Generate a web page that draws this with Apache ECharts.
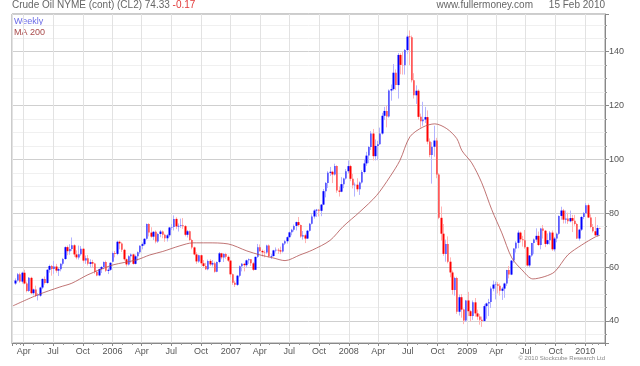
<!DOCTYPE html>
<html><head><meta charset="utf-8">
<script src="https://cdn.jsdelivr.net/npm/echarts@6/dist/echarts.min.js"></script>
<style>html,body{margin:0;padding:0;background:#fff}#c{width:640px;height:366px}</style>
</head><body><div id="c"></div>
<script>
// Weekly bars (Monday-dated), [open, high, low, close]
const firstWeek = [2005, 2, 7]; // 7 Mar 2005
const ohlc2005 = [
[53.9,55.8,53.4,55.0],[55.0,57.8,54.6,57.3],[57.3,57.9,54.2,54.6],[54.6,58.3,53.9,57.9],
[57.9,59.0,53.6,53.9],[53.9,54.6,50.6,51.1],[51.1,56.3,50.8,56.0],[56.0,56.4,49.9,50.3],
[50.3,52.0,49.5,51.7],[51.7,53.1,48.9,49.3],[49.3,50.3,47.6,49.4],[49.4,52.7,49.0,52.4],[52.4,55.8,51.8,55.6],
[55.6,56.5,53.5,54.1],[54.1,59.2,53.8,59.0],[59.0,60.9,57.9,60.4],[60.4,60.8,56.8,59.3],
[59.3,62.3,57.5,60.2],[60.2,61.2,57.9,58.7],[58.7,59.9,56.7,59.2],[59.2,61.4,58.4,61.2],
[61.2,63.4,60.6,63.0],[63.0,67.7,62.7,67.4],[67.4,68.0,64.4,65.9],[65.9,68.5,64.6,66.7],[66.7,71.0,66.0,68.1],
[68.1,68.5,63.8,64.7],[64.7,66.2,62.9,63.6],[63.6,68.0,62.8,64.8],[64.8,67.8,64.2,66.8],
[66.8,67.1,61.6,62.4],[62.4,64.3,61.2,63.3],[63.3,64.5,60.6,61.2],[61.2,62.9,59.8,61.8],[61.8,62.7,59.8,61.3],
[61.3,61.6,57.5,58.2],[58.2,58.9,56.6,56.9],[56.9,59.4,56.6,59.3],[59.3,60.4,57.8,60.0],
[60.0,62.1,59.2,61.9],[61.9,62.4,58.2,58.6],[58.6,59.6,57.4,59.0],[59.0,61.8,58.6,61.6]
];
const ohlc2006 = [
[62.0,65.8,61.8,65.2],[65.2,66.0,63.6,64.9],[64.9,69.8,64.4,69.4],[69.4,69.9,66.6,68.8],[68.8,69.2,65.6,66.4],
[66.4,66.8,62.4,62.9],[62.9,63.2,60.2,61.0],[61.0,64.4,60.6,64.0],[64.0,65.1,61.6,64.7],
[64.7,65.0,60.9,61.2],[61.2,64.6,61.0,64.0],[64.0,65.8,62.4,65.5],[65.5,68.1,64.9,67.9],
[67.9,69.1,66.6,68.5],[68.5,70.8,68.0,70.5],[70.5,76.2,70.2,76.0],[76.0,76.3,71.4,72.8],
[72.8,74.8,70.9,71.3],[71.3,73.4,70.0,73.1],[73.1,73.6,68.8,69.5],[69.5,72.6,69.0,72.3],[72.3,73.8,71.1,73.2],
[73.2,73.6,70.7,72.0],[72.0,72.4,69.4,70.7],[70.7,72.3,69.5,71.8],[71.8,74.9,71.1,74.7],
[74.7,76.0,73.8,74.9],[74.9,79.2,73.6,77.9],[77.9,78.5,74.1,75.1],[75.1,76.2,73.2,75.3],[75.3,78.0,74.6,75.5],
[75.5,78.2,74.2,75.2],[75.2,75.6,71.4,72.0],[72.0,73.8,71.0,73.3],[73.3,73.6,69.6,70.1],
[70.1,70.5,66.6,67.3],[67.3,67.6,64.4,64.7],[64.7,65.5,61.2,62.1],[62.1,64.6,61.6,64.4],
[64.4,64.6,60.8,61.4],[61.4,62.6,59.9,60.4],[60.4,61.6,58.9,59.2],[59.2,62.8,58.8,62.3],[62.3,62.9,60.4,61.0],
[61.0,62.6,60.2,61.4],[61.4,62.0,57.9,58.3],[58.3,62.1,58.1,61.9],[61.9,65.6,61.4,65.1],
[65.1,65.3,62.9,63.6],[63.6,65.2,61.9,64.9],[64.9,65.3,63.1,63.8],[63.8,64.3,61.9,62.4]
];
const ohlc2007 = [
[62.4,62.5,56.2,57.3],[57.3,57.6,53.4,54.2],[54.2,54.9,52.6,53.4],[53.4,57.1,53.0,56.8],[56.8,60.6,56.2,60.3],
[60.3,61.5,58.4,61.2],[61.2,61.6,58.4,60.7],[60.7,62.8,59.8,62.5],[62.5,63.2,61.2,62.9],
[62.9,63.0,60.4,61.4],[61.4,61.9,58.6,59.0],[59.0,63.9,58.9,63.8],[63.8,68.6,63.4,67.4],
[67.4,68.4,65.6,66.0],[66.0,66.5,63.9,65.5],[65.5,66.2,63.6,65.4],[65.4,68.3,64.9,68.0],[68.0,68.4,63.6,63.9],
[63.9,64.8,63.0,64.1],[64.1,66.4,63.9,66.2],[66.2,67.3,65.4,66.4],[66.4,67.0,64.9,66.2],
[66.2,67.6,64.8,65.8],[65.8,69.0,65.4,68.8],[68.8,70.1,68.2,69.6],[69.6,71.4,68.7,71.1],
[71.1,73.2,70.9,72.9],[72.9,74.2,71.8,73.9],[73.9,75.8,73.2,75.3],[75.3,76.9,73.6,76.7],[76.7,78.6,75.0,75.6],
[75.6,75.8,70.9,71.4],[71.4,73.4,70.2,71.8],[71.8,72.4,68.9,70.6],[70.6,73.8,70.4,73.5],
[73.5,76.4,73.2,76.1],[76.1,79.6,75.8,78.8],[78.8,81.5,78.0,81.0],[81.0,81.6,78.6,81.3],
[81.3,81.6,78.8,80.9],[80.9,83.4,78.9,83.2],[83.2,89.0,83.0,88.2],[88.2,91.6,85.9,91.2],[91.2,95.6,89.4,95.0],
[95.0,97.2,93.8,95.4],[95.4,95.8,91.2,94.4],[94.4,98.4,94.0,97.5],[97.5,97.8,87.6,88.4],
[88.4,89.9,86.2,88.0],[88.0,93.4,87.8,90.8],[90.8,93.2,89.3,92.9],[92.9,96.4,92.5,95.6],[95.6,99.6,94.8,97.5]
];
const ohlc2008 = [
[97.5,98.0,91.9,92.8],[92.8,94.6,89.2,90.4],[90.4,91.4,86.2,90.6],[90.6,93.0,88.0,88.9],
[88.9,91.8,86.8,91.4],[91.4,96.0,91.0,95.3],[95.3,100.2,94.8,98.5],[98.5,102.8,97.6,101.4],
[101.4,105.0,98.6,104.6],[104.6,110.5,103.5,109.6],[109.6,111.3,99.6,101.2],[101.2,107.4,99.6,105.0],[105.0,106.9,99.7,105.6],
[105.6,111.8,105.4,109.6],[109.6,117.3,109.2,116.2],[116.2,119.5,114.6,118.0],[118.0,119.9,111.9,115.9],
[115.9,126.0,115.5,125.6],[125.6,127.8,121.8,126.1],[126.1,135.4,125.6,132.2],[132.2,133.4,125.8,127.6],
[127.6,139.5,122.6,138.8],[138.8,139.4,131.6,135.1],[135.1,139.9,131.5,135.0],[135.0,141.0,131.5,140.6],[140.6,146.2,139.2,145.6],
[145.6,147.9,135.0,145.4],[145.4,146.0,128.6,129.4],[129.4,132.0,122.6,123.8],[123.8,127.5,120.6,125.5],
[125.5,126.0,114.8,115.8],[115.8,117.0,111.8,114.2],[114.2,121.4,112.5,114.8],[114.8,119.5,113.5,115.7],
[115.7,118.2,105.6,106.6],[106.6,107.8,100.8,101.6],[101.6,106.4,91.0,104.7],[104.7,112.5,101.0,107.0],[107.0,108.0,93.0,94.4],
[94.4,94.9,77.8,78.3],[78.3,82.5,69.8,72.4],[72.4,76.0,64.2,64.9],[64.9,70.2,62.0,68.6],
[68.6,71.4,61.4,62.0],[62.0,63.6,56.2,58.0],[58.0,58.7,49.8,51.5],[51.5,56.4,49.4,55.9],
[55.9,56.4,42.6,43.4],[43.4,49.8,42.0,48.8],[48.8,50.0,41.2,44.2],[44.2,44.6,38.8,40.2],[40.2,47.8,39.6,47.6]
];
const ohlc2009 = [
[47.6,50.8,41.8,43.6],[43.6,44.0,39.8,41.8],[41.8,47.6,40.4,46.9],[46.9,48.5,41.6,42.8],
[42.8,44.2,40.4,41.6],[41.6,42.6,38.6,40.4],[40.4,41.6,37.8,40.0],[40.0,46.2,39.6,45.5],
[45.5,46.8,40.8,46.5],[46.5,48.2,41.8,47.0],[47.0,52.8,44.8,52.0],[52.0,55.0,51.0,53.5],[53.5,54.6,48.0,53.6],
[53.6,54.4,50.2,53.1],[53.1,53.9,49.4,51.2],[51.2,52.6,47.8,52.0],[52.0,54.2,48.6,53.9],
[53.9,59.0,53.0,58.9],[58.9,60.4,55.8,57.2],[57.2,62.6,57.0,62.4],[62.4,67.0,61.6,66.9],
[66.9,69.6,65.4,69.0],[69.0,73.6,67.0,72.8],[72.8,73.2,69.2,70.3],[70.3,71.6,67.6,70.0],[70.0,73.8,66.8,67.4],
[67.4,67.6,60.2,60.6],[60.6,64.4,59.8,64.3],[64.3,69.0,63.8,68.9],[68.9,70.6,64.8,70.2],
[70.2,74.4,69.4,71.6],[71.6,73.2,67.8,68.2],[68.2,74.6,66.6,74.3],[74.3,75.6,70.6,73.5],[73.5,73.8,67.4,68.6],
[68.6,72.5,68.2,70.0],[70.0,73.4,68.4,72.8],[72.8,73.6,66.0,66.6],[66.6,71.2,65.8,70.6],
[70.6,72.8,69.2,72.4],[72.4,79.2,72.0,79.0],[79.0,82.4,77.6,81.0],[81.0,81.6,76.2,77.6],
[77.6,81.0,76.2,78.0],[78.0,80.2,76.0,77.0],[77.0,81.0,76.6,78.2],[78.2,79.4,73.0,77.2],[77.2,79.4,75.4,76.0],
[76.0,76.4,70.4,70.6],[70.6,74.2,69.8,73.9],[73.9,79.0,73.4,78.6],[78.6,80.4,77.8,80.0]
];
const ohlc2010 = [
[80.0,83.8,79.8,83.0],[83.0,83.6,78.2,78.4],[78.4,79.6,74.4,74.9],[74.9,76.0,72.8,73.3],
[73.3,78.6,71.6,71.8],[71.8,75.6,71.4,74.5],[74.5,74.6,74.2,74.33]
];
// MA 200
const ma200 = [
['2005-02-27',45.6],['2005-05-15',49.7],['2005-07-22',52.6],['2005-08-28',54.0],['2005-10-14',57.0],
['2005-11-23',59.0],['2006-01-02',60.8],['2006-03-17',62.7],['2006-04-26',64.5],['2006-06-05',65.8],
['2006-07-28',67.9],['2006-09-06',69.0],['2006-10-20',69.0],['2006-12-24',68.6],['2007-02-20',66.0],
['2007-04-02',64.5],['2007-05-12',63.4],['2007-06-18',62.4],['2007-08-03',64.5],['2007-09-10',66.3],
['2007-11-04',69.9],['2007-12-14',75.0],['2008-02-04',80.5],['2008-03-27',86.6],['2008-05-07',93.5],
['2008-06-07',99.6],['2008-07-08',108.4],['2008-08-17',112.0],['2008-09-23',113.2],['2008-10-30',111.4],
['2008-11-30',107.7],['2008-12-16',103.2],['2009-01-15',98.7],['2009-02-15',91.3],['2009-03-18',81.3],
['2009-04-18',72.7],['2009-05-19',63.4],['2009-06-19',59.0],['2009-07-23',55.6],['2009-08-29',56.5],
['2009-09-29',58.3],['2009-11-08',64.5],['2009-12-21',68.2],['2010-02-01',71.2],['2010-02-15',71.8]
];
const monthNames = ['Jan','Feb','Mar','Apr','May','Jun','Jul','Aug','Sep','Oct','Nov','Dec'];
const titleMain = 'Crude Oil NYME (cont) (CL2) 74.33 ';
const titleChange = '-0.17';
const siteText = 'www.fullermoney.com';
const dateText = '15 Feb 2010';
const copyText = '\u00A9 2010 Stockcube Research Ltd';

const FONT = '"Liberation Sans", Arial, sans-serif';
const all = [].concat(ohlc2005, ohlc2006, ohlc2007, ohlc2008, ohlc2009, ohlc2010);
const wickData = [], bodyData = [];
all.forEach(function (d, i) {
  const t = new Date(firstWeek[0], firstWeek[1], firstWeek[2] + 7 * i).getTime();
  const o = d[0], h = d[1], l = d[2], c = d[3];
  wickData.push([t, o, c, l, h]);
  bodyData.push([t, o, c, Math.min(o, c), Math.max(o, c)]);
});

const chart = echarts.init(document.getElementById('c'), null, {renderer: 'canvas'});
chart.setOption({
  animation: false,
  backgroundColor: '#fff',
  title: {
    left: 12, top: 0, padding: 0,
    text: '{a|' + titleMain + '}{b|' + titleChange + '}',
    textStyle: {fontWeight: 'normal', fontSize: 10, fontFamily: FONT, rich: {
      a: {fontSize: 10, fontWeight: 'normal', color: '#666', fontFamily: FONT},
      b: {fontSize: 10, fontWeight: 'normal', color: '#e23b3b', fontFamily: FONT}
    }}
  },
  graphic: [
    {type: 'text', right: 107, top: 0, style: {text: siteText, fontSize: 10, fill: '#666', fontFamily: FONT}},
    {type: 'text', right: 35, top: 0, style: {text: dateText, fontSize: 10, fill: '#666', fontFamily: FONT}},
    {type: 'text', left: 14, top: 17, style: {text: 'Weekly', fontSize: 9, fill: '#6b6be6', fontFamily: FONT}},
    {type: 'text', left: 14, top: 28, style: {text: 'MA 200', fontSize: 9, fill: '#a94a4a', fontFamily: FONT}},
    {type: 'text', right: 35, top: 355, style: {text: copyText, fontSize: 6, fill: '#888', fontFamily: FONT}}
  ],
  grid: {left: 12, right: 35, top: 14, bottom: 23, show: true, borderColor: '#999', borderWidth: 1, containLabel: false},
  xAxis: {
    type: 'time',
    min: new Date(2005, 1, 24).getTime(),
    max: new Date(2010, 2, 3).getTime(),
    splitNumber: 20,
    axisLine: {show: true, lineStyle: {color: '#888'}},
    axisTick: {show: true, length: 3, lineStyle: {color: '#888'}},
    minorTick: {show: true, splitNumber: 3, length: 2, lineStyle: {color: '#999'}},
    splitLine: {show: true, lineStyle: {color: '#e2e2e2'}},
    axisLabel: {
      color: '#555', fontSize: 9, fontFamily: FONT, margin: 4,
      showMinLabel: false, showMaxLabel: false,
      formatter: function (v) {
        const d = new Date(v);
        return d.getMonth() === 0 ? String(d.getFullYear()) : monthNames[d.getMonth()];
      }
    }
  },
  yAxis: {
    type: 'value', position: 'right', scale: true,
    min: 31.8, max: 154, splitNumber: 6, minInterval: 20, maxInterval: 20,
    axisLine: {show: true, lineStyle: {color: '#888'}},
    axisTick: {show: true, length: 4, lineStyle: {color: '#888'}},
    minorTick: {show: true, splitNumber: 4, length: 2, lineStyle: {color: '#999'}},
    splitLine: {show: true, lineStyle: {color: '#cfcfcf'}},
    minorSplitLine: {show: true, lineStyle: {color: '#f0f0f0'}},
    axisLabel: {color: '#555', fontSize: 9, fontFamily: FONT, margin: 4, showMinLabel: false, showMaxLabel: false}
  },
  series: [
    {
      name: 'Weekly', type: 'candlestick', data: wickData, barWidth: 1,
      encode: {x: 0, y: [1, 2, 3, 4]},
      itemStyle: {color: '#b4b4ff', color0: '#ffb4b4', borderColor: '#b4b4ff', borderColor0: '#ffb4b4', borderWidth: 1}
    },
    {
      name: 'Weekly', type: 'candlestick', data: bodyData, barWidth: 2,
      encode: {x: 0, y: [1, 2, 3, 4]},
      itemStyle: {color: '#0000ff', color0: '#ff0000', borderColor: '#0000ff', borderColor0: '#ff0000', borderWidth: 0}
    },
    {
      name: 'MA 200', type: 'line', data: ma200, smooth: 0.3, symbol: 'none',
      lineStyle: {color: '#b05050', width: 0.8}
    }
  ]
});
</script></body></html>
